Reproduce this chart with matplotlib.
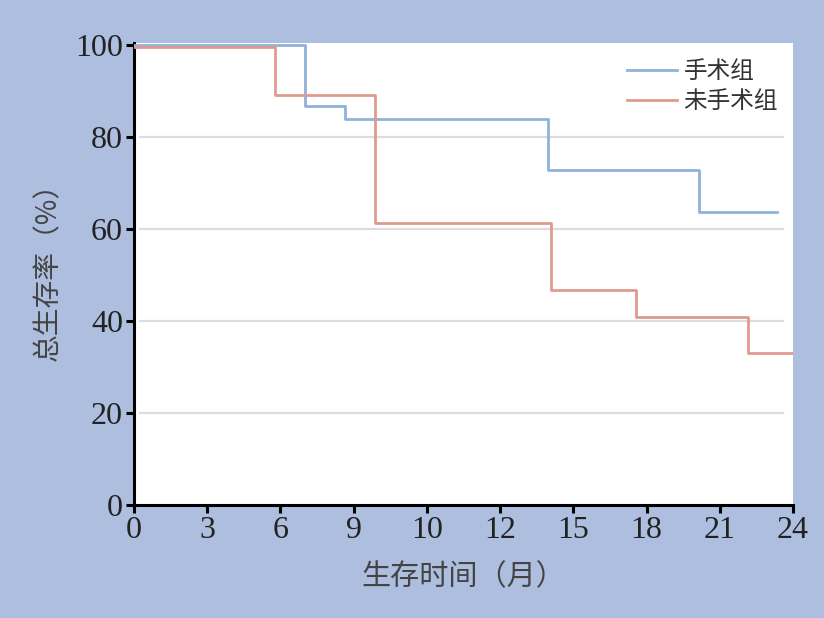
import matplotlib
matplotlib.use("Agg")
import matplotlib.pyplot as plt

# axis tick positions (evenly spaced) and their printed labels
x_tick_pos = [0, 3, 6, 9, 12, 15, 18, 21, 24, 27]
x_tick_labels = ["0", "3", "6", "9", "10", "12", "15", "18", "21", "24"]
y_ticks = [0, 20, 40, 60, 80, 100]

# 手术组 (surgery) step curve, in axis units
surg_t = [0, 7.02, 8.66, 16.95, 23.14, 26.34]
surg_s = [100, 86.7, 84.0, 72.8, 63.7, 63.7]
# 未手术组 (no surgery)
nosurg_t = [0, 5.79, 9.89, 17.07, 20.56, 25.15, 27.0]
nosurg_s = [99.6, 89.1, 61.3, 46.7, 40.9, 33.0, 33.0]

bg = "#AEBEDF"
fig = plt.figure(figsize=(8.24, 6.18), dpi=100, facecolor=bg)
ax = fig.add_axes([134/824, 1-505/618, (793-134)/824, (505-43)/618])
ax.set_facecolor("white")

for yv in [20, 40, 60, 80]:
    ax.axhline(yv, xmin=0.009, xmax=0.985, color="#DDDDDD", lw=1.6, zorder=1)

ax.step(surg_t, surg_s, where="post", color="#8FB2DA", lw=2.0, label="手术组", zorder=3)
ax.step(nosurg_t, nosurg_s, where="post", color="#DE9A8E", lw=2.0, label="未手术组", zorder=3)

ax.set_xlim(0, 27)
ax.set_ylim(0, 100.45)
ax.set_xticks(x_tick_pos)
ax.set_xticklabels(x_tick_labels)
ax.set_yticks(y_ticks)
for s in ["top", "right"]:
    ax.spines[s].set_visible(False)
for s in ["left", "bottom"]:
    ax.spines[s].set_linewidth(2.2)
    ax.spines[s].set_color("black")
ax.tick_params(axis="both", direction="out", length=6, width=2.2, colors="black",
               labelsize=23, pad=2)
for lab in ax.get_xticklabels() + ax.get_yticklabels():
    lab.set_family("Liberation Serif")
    lab.set_color("#222222")

cjk = ["Noto Sans CJK SC", "DejaVu Sans"]
ax.set_xlabel("生存时间（月）", family=cjk, fontsize=21, color="#444444", labelpad=12)
ax.set_ylabel("总生存率（%）", family=cjk, fontsize=20, color="#444444", labelpad=10)
ax.yaxis.set_label_coords(-0.107, 0.52)

leg = fig.legend(loc="upper left", bbox_to_anchor=(627/824, 1-60/618), frameon=False,
                 prop={"family": cjk, "size": 17}, handlelength=2.1, handletextpad=0.3,
                 labelspacing=0.3, borderpad=0, borderaxespad=0)
for t in leg.get_texts():
    t.set_color("#333333")

fig.savefig("out.png", dpi=100, facecolor=bg)
